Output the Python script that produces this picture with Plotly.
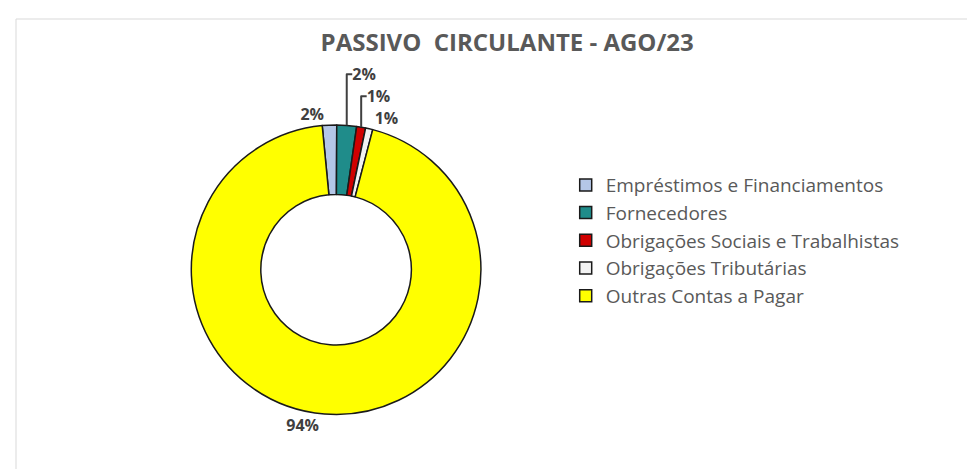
import plotly.graph_objects as go

TITLE = "PASSIVO  CIRCULANTE - AGO/23"

labels = [
    "Empréstimos e Financiamentos",
    "Fornecedores",
    "Obrigações Sociais e Trabalhistas",
    "Obrigações Tributárias",
    "Outras Contas a Pagar",
]
values = [1.6, 2.2, 1.0, 0.8, 94.4]
colors = ["#B4C7E7", "#1F8C8A", "#D00000", "#F2F2F2", "#FFFF00"]

TEXT_GRAY = "#595959"
LABEL_DARK = "#404040"

fig = go.Figure(
    go.Pie(
        labels=labels,
        values=values,
        sort=False,
        direction="clockwise",
        rotation=-5.5,
        hole=0.52,
        marker=dict(colors=colors, line=dict(color="#1A1A1A", width=1.5)),
        texttemplate="<b>%{percent:.0%}</b>",
        textposition="outside",
        textfont=dict(family="Open Sans", size=16, color=LABEL_DARK),
        domain=dict(x=[0.188, 0.485], y=[0.133, 0.751]),
        hoverinfo="label+percent",
    )
)

fig.update_layout(
    width=975,
    height=469,
    margin=dict(l=0, r=0, t=0, b=0),
    paper_bgcolor="white",
    plot_bgcolor="white",
    font=dict(family="Open Sans", color=TEXT_GRAY),
    title=dict(
        text=f"<b>{TITLE}</b>",
        x=0.512,
        xanchor="center",
        y=0.927,
        yanchor="middle",
        font=dict(family="Open Sans", size=24, color=TEXT_GRAY),
    ),
    legend=dict(
        x=0.572,
        y=0.663,
        xanchor="left",
        yanchor="top",
        font=dict(family="Open Sans", size=19, color=TEXT_GRAY),
        bgcolor="rgba(0,0,0,0)",
    ),
    showlegend=True,
)

# Chart area border
fig.add_shape(
    type="rect",
    xref="paper",
    yref="paper",
    x0=8 / 975,
    x1=966 / 975,
    y0=1 - 465 / 469,
    y1=1 - 11 / 469,
    line=dict(color="#D9D9D9", width=1),
    fillcolor="rgba(0,0,0,0)",
    layer="below",
)

fig.write_html("out.html")
